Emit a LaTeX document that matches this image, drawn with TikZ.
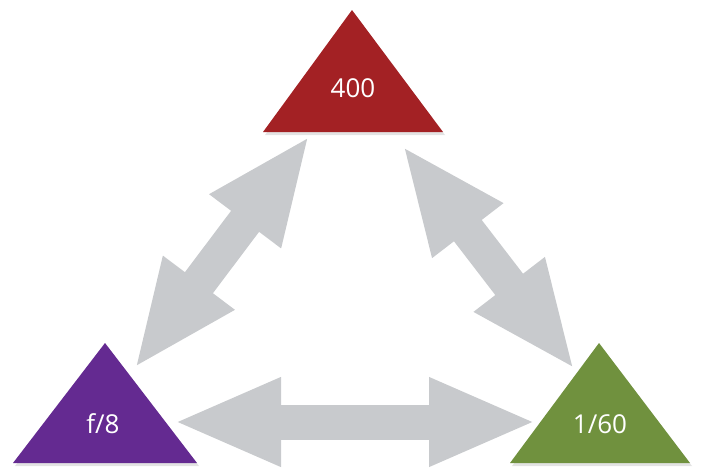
\documentclass[tikz,border=0pt]{standalone}
\usepackage{fontspec}
\setmainfont{Open Sans}
\usetikzlibrary{arrows.meta, shadows}
\definecolor{isored}{HTML}{A32124}
\definecolor{aperturepurple}{HTML}{642A91}
\definecolor{shuttergreen}{HTML}{70913E}
\definecolor{linkgray}{RGB}{200,202,205}
\tikzset{corner/.style={
			fill=#1,
			drop shadow={opacity=.22, shadow xshift=2pt, shadow yshift=-3pt}},
	value/.style={text=white, inner sep=0pt, font=\fontsize{26}{31}\selectfont},
	link/.style={
			draw=linkgray, line width=35pt,
			{Triangle[length=108pt, width=81pt]}-{Triangle[length=108pt, width=81pt]}}
}

\begin{document}
\begin{tikzpicture}[x=1pt, y=-1pt]
	\useasboundingbox (0,0) rectangle (703,472);

	% arrow ends
	\coordinate (ISOleft) at (310,135);
	\coordinate (ISOright) at (402,145);
	\coordinate (APup) at (134,369);
	\coordinate (APright) at (173,422);
	\coordinate (SHup) at (575,370);
	\coordinate (SHleft) at (537,422);

	\draw[link] (ISOleft) -- (APup);
	\draw[link] (ISOright) -- (SHup);
	\draw[link] (APright) -- (SHleft);

	% triangles
	\path[corner=isored] (352,10) -- (443,132) -- (263,132) -- cycle;
	\path[corner=aperturepurple] (105,343) -- (197,463) -- (13,463) -- cycle;
	\path[corner=shuttergreen] (599,343) -- (690,463) -- (510,463) -- cycle;

	\node[value] (ISO) at (353,88) {400};
	\node[value] (AP) at (103,424) {f/8};
	\node[value] (SH) at (600,424) {1/60};

\end{tikzpicture}
\end{document}
